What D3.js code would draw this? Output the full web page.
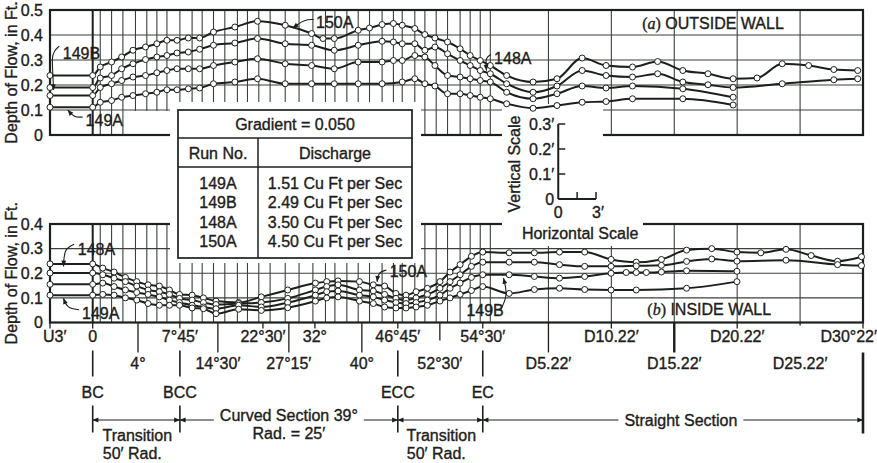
<!DOCTYPE html>
<html><head><meta charset="utf-8">
<script src="https://cdn.jsdelivr.net/npm/d3@7"></script>
<style>
body{margin:0;background:#fff;}
svg{display:block;font-family:"Liberation Sans",Arial,sans-serif;}
svg text{stroke:#1c201c;stroke-width:0.35px;}
</style></head><body>
<svg id="chart" width="877" height="463"></svg>
<script>
// ---------- DATA ----------
const runNames = ["150A","148A","149B","149A"];
const tableRuns = ["149A","149B","148A","150A"];
const tableDischarge = ["1.51 Cu Ft per Sec","2.49 Cu Ft per Sec","3.50 Cu Ft per Sec","4.50 Cu Ft per Sec"];
const gradientText = "Gradient = 0.050";

// stations: feet along channel centerline measured from BC
const outsideStations = [-3,0,0.6,1.5,2.3,3.2,4.2,5.1,5.9,6.7, 7.6,8.5,9.6,11.3,13.1,15.3,17.4,18.3,19.2,21.1, 22.0,23.0,23.9,24.6,25.6,26.4,27.2,28.2,29.2,30.0, 30.8,31.6,32.9,35.0,36.9,38.9,40.8,42.9,44.9,46.9, 48.9,50.9,52.8,54.8,56.9,58.9,60.8];
const out150A = [0.238,0.238,0.272,0.292,0.312,0.339,0.352,0.365,0.379,0.379, 0.388,0.388,0.412,0.432,0.455,0.439,0.406,0.386,0.386,0.419, 0.428,0.442,0.446,0.439,0.426,0.402,0.388,0.372,0.345,0.318, 0.298,0.278,0.238,0.212,0.225,0.308,0.278,0.272,0.294,0.258, 0.245,0.225,0.228,0.285,0.278,0.262,0.258];
const out148A = [0.19,0.19,0.228,0.238,0.265,0.285,0.302,0.312,0.318,0.328, 0.332,0.343,0.359,0.368,0.386,0.365,0.359,null,0.339,0.359, null,0.375,0.372,0.365,0.365,0.339,0.352,0.325,0.298,0.278, 0.258,0.245,0.205,0.171,0.196,0.258,0.238,0.232,0.245,0.212, 0.201,0.19,null,0.205,null,0.221,0.225];
const out149B = [0.158,0.158,0.19,0.205,0.218,0.232,0.238,0.249,0.258,0.265, 0.265,0.265,0.278,0.292,0.305,0.285,0.278,null,0.265,0.292, null,0.292,0.298,0.298,0.318,0.312,0.278,0.238,0.232,0.225, 0.218,0.212,0.171,0.145,0.165,0.196,0.188,0.196,null,0.185, null,0.151,null,null,null,null,null];
const out149A = [0.111,0.111,0.131,0.138,0.151,0.158,0.165,0.171,0.181,0.181, 0.185,0.188,0.205,0.212,0.225,0.205,0.205,null,0.205,0.205, null,0.205,null,0.212,0.225,0.205,0.196,0.165,0.165,0.158, 0.151,0.145,0.125,0.107,0.118,0.131,0.134,0.145,null,0.145, null,0.12,null,null,null,null,null];

const insideStations = [-3,0,0.8,1.7,2.6,3.5,4.4,5.3,6.1,6.9, 7.9,8.8,9.8,11.6,13.4,15.5,17.7,18.6,19.5,21.2, 22.3,23.2,24.1,24.9,25.7,26.6,27.6,28.4,29.2,30.1, 31.0,33.1,35.1,37.1,39.1,41.2,42.4,43.2,44.0,45.2, 47.2,49.2,51.2,53.1,55.1,57.1,59.2,61.1];
const in150A = [0.238,0.238,0.221,0.205,0.183,0.166,0.153,0.148,0.132,0.114, 0.111,0.1,0.087,0.081,0.104,0.132,0.16,0.166,0.169,0.166, 0.153,0.148,0.118,0.111,0.125,0.139,0.166,0.205,0.235,0.269, 0.286,0.283,0.283,0.286,0.286,0.256,null,0.245,null,0.256, 0.294,0.3,0.286,0.283,0.297,0.272,0.249,0.267];
const in148A = [0.201,0.201,0.194,0.18,0.166,0.148,0.132,0.125,0.114,0.098, 0.091,0.081,0.073,0.077,0.081,0.098,0.132,0.146,0.153,0.132, 0.128,0.114,0.098,0.091,0.1,0.114,0.139,0.166,0.194,0.228, 0.245,0.245,0.245,0.235,0.228,0.228,null,0.23,null,0.232, 0.248,0.258,0.249,null,0.253,null,0.235,0.231];
const in149B = [0.155,0.155,0.16,0.146,0.132,0.122,0.114,0.104,0.091,0.081, 0.07,0.063,0.056,0.07,0.063,0.081,0.111,0.125,0.128,0.111, 0.104,0.091,0.081,0.077,0.081,0.091,0.111,0.139,0.16,0.183, 0.194,0.194,0.187,0.18,0.187,0.2,0.203,0.203,0.203,0.205, 0.21,null,0.208,null,null,null,null,null];
const in149A = [0.111,0.111,0.114,0.111,0.1,0.091,0.077,0.07,0.07,0.07, 0.059,0.056,0.036,0.054,0.049,0.06,0.087,0.1,0.104,0.087, 0.077,0.063,0.059,0.059,0.063,0.07,0.087,0.1,0.114,0.13, 0.146,0.118,0.134,0.139,0.134,0.132,null,0.132,null,null, 0.139,null,0.166,null,null,null,null,null];

// vertical grid stations (ft)
const gridStations = [0.6,1.5,2.4,3.4,4.3,5.1,5.9,6.93,7.9,8.7,9.6,10.5,11.5,12.3,13.2,14.1,15.3,16.4,17.5,18.5,19.25,20.2,21.1,22.0,23.0,23.9,24.6,25.6,26.4,27.3,28.2,29.2,30.0,30.8,31.6,36.22,41.22,46.22,51.22,56.22];

// x-axis labels (two rows) and their stations (ft)
const xLabelsRow1 = ["U3′","0","7°45′","22°30′","32°","46°45′","54°30′","D10.22′","D20.22′","D30°22′"];
const xLabelsRow1At = [-3,0,6.93,13.53,17.66,24.25,31.0,41.22,51.22,61.22];
const xLabelsRow2 = ["4°","14°30′","27°15′","40°","52°30′","D5.22′","D15.22′","D25.22′"];
const xLabelsRow2At = [3.6,9.95,15.59,21.39,27.59,36.22,46.22,56.22];

const markerLabels = ["BC","BCC","ECC","EC"];
const markerAt = [0,6.93,24.25,31.0];

const sectionFrom = [0,6.93,24.25,31.0];
const sectionTo = [6.93,24.25,31.0,61.22];
const sectionText = [["Transition","50′ Rad."],["Curved Section 39°","Rad. = 25′"],["Transition","50′ Rad."],["Straight Section"]];

// ---------- SCALES ----------
const INK = "#1c201c", GRID = "#3c403c";
const svg = d3.select("#chart");
const x = d3.scaleLinear().domain([-3,0,61.22]).range([50,92.7,863]);
const yTop = d3.scaleLinear().domain([0,0.5]).range([135,10]);
const yBot = d3.scaleLinear().domain([0,0.4]).range([322.5,224]);
const yInset = d3.scaleLinear().domain([0,0.3]).range([199,124]);

svg.append("rect").attr("width",877).attr("height",463).attr("fill","#fff");
const defs = svg.append("defs");
defs.append("marker").attr("id","ah").attr("viewBox","0 0 10 10").attr("refX",9.5).attr("refY",5)
  .attr("markerWidth",8).attr("markerHeight",6).attr("markerUnits","userSpaceOnUse").attr("orient","auto-start-reverse")
  .append("path").attr("d","M0,1 L10,5 L0,9 Z").attr("fill",INK);

// ---------- GRID ----------
function grid(yS, vmax){
  const g = svg.append("g");
  g.selectAll("line.h").data(d3.range(1, Math.round(vmax*10))).join("line")
    .attr("x1",x(-3)).attr("x2",x(61.22)).attr("y1",d=>yS(d/10)).attr("y2",d=>yS(d/10))
    .attr("stroke",GRID).attr("stroke-width",1.1);
  g.selectAll("line.v").data(gridStations).join("line")
    .attr("x1",d=>x(d)).attr("x2",d=>x(d)).attr("y1",yS(vmax)).attr("y2",yS(0))
    .attr("stroke",GRID).attr("stroke-width",1.1);
  g.append("line").attr("x1",x(0)).attr("x2",x(0)).attr("y1",yS(vmax)).attr("y2",yS(0))
    .attr("stroke",INK).attr("stroke-width",2);
}
grid(yTop,0.5);
grid(yBot,0.4);

// small blank area under upstream curves (top panel)
svg.append("rect").attr("x",124).attr("y",yTop(0.1)+1).attr("width",46).attr("height",yTop(0)-yTop(0.1)-2).attr("fill","#fff");

// frames
[[yTop,0.5],[yBot,0.4]].forEach(([yS,vm])=>{
  svg.append("rect").attr("x",x(-3)).attr("y",yS(vm)).attr("width",x(61.22)-x(-3)).attr("height",yS(0)-yS(vm))
    .attr("fill","none").attr("stroke",INK).attr("stroke-width",2.2);
});

// masks for table & scale inset
svg.append("rect").attr("x",170).attr("y",102).attr("width",251).attr("height",161).attr("fill","#fff");
svg.append("rect").attr("x",502).attr("y",104).attr("width",101).attr("height",40).attr("fill","#fff");
svg.append("rect").attr("x",502).attr("y",214).attr("width",141).attr("height",32).attr("fill","#fff");

// ---------- SERIES ----------
function drawSeries(yS, stations, list){
  const g = svg.append("g");
  const line = d3.line().x(d=>x(d[0])).y(d=>yS(d[1])).curve(d3.curveMonotoneX);
  list.forEach(vals=>{
    const pts = stations.map((s,i)=>[s,vals[i]]).filter(d=>d[1]!=null);
    g.append("path").datum(pts).attr("d",line).attr("fill","none").attr("stroke",INK).attr("stroke-width",2);
  });
  list.forEach(vals=>{
    const pts = stations.map((s,i)=>[s,vals[i]]).filter(d=>d[1]!=null);
    g.append("g").selectAll("circle").data(pts).join("circle")
      .attr("cx",d=>x(d[0])).attr("cy",d=>yS(d[1])).attr("r",3)
      .attr("fill","#fff").attr("stroke",INK).attr("stroke-width",1);
  });
}
drawSeries(yTop, outsideStations, [out150A,out148A,out149B,out149A]);
drawSeries(yBot, insideStations, [in150A,in148A,in149B,in149A]);

// ---------- Y AXES ----------
function yAxis(yS, vals, title){
  const ax = svg.append("g").attr("transform",`translate(${x(-3)-4},0)`)
    .call(d3.axisLeft(yS).tickValues(vals).tickSize(0).tickPadding(3).tickFormat(d=>d===0?"0":d3.format(".1f")(d)));
  ax.select(".domain").remove();
  ax.attr("font-family",null).attr("font-size",16);
  ax.selectAll("text").attr("fill",INK);
  const [a,b] = yS.range();
  svg.append("text").attr("transform",`translate(17,${(a+b)/2}) rotate(-90)`)
    .attr("text-anchor","middle").attr("font-size",16).attr("fill",INK).text(title);
}
yAxis(yTop,[0,0.1,0.2,0.3,0.4,0.5],"Depth of Flow, in Ft.");
yAxis(yBot,[0,0.1,0.2,0.3,0.4],"Depth of Flow, in Ft.");

// ---------- CURVE LABELS ----------
function note(yS, text, at, path){
  svg.append("text").attr("x",x(at[0])).attr("y",yS(at[1])).attr("font-size",16).attr("fill",INK).text(text);
  svg.append("path").attr("d",d3.line().x(d=>x(d[0])).y(d=>yS(d[1])).curve(d3.curveBasis)(path))
    .attr("fill","none").attr("stroke",INK).attr("stroke-width",1.1).attr("marker-end","url(#ah)");
}
note(yTop,"149B",[-2.1,0.305],[[-2.35,0.355],[-2.9,0.33],[-2.8,0.25],[-2.75,0.18]]);
note(yTop,"149A",[-0.5,0.036],[[-0.7,0.072],[-1.3,0.07],[-1.75,0.1]]);
note(yTop,"150A",[17.75,0.43],[[17.55,0.462],[16.8,0.462],[15.9,0.428]]);
note(yTop,"148A",[31.9,0.285],[[31.65,0.322],[31.2,0.31],[31.3,0.258]]);
note(yBot,"148A",[-1.05,0.273],[[-1.3,0.318],[-2.0,0.3],[-2.05,0.228]]);
note(yBot,"149A",[-0.75,0.013],[[-0.95,0.052],[-1.8,0.058],[-2.05,0.098]]);
note(yBot,"150A",[23.6,0.185],[[23.35,0.213],[22.7,0.205],[22.6,0.166]]);
note(yBot,"149B",[29.7,0.028],[[32.4,0.05],[33.0,0.11],[32.65,0.18]]);

function wallLabel(yS, at, letter, rest){
  const t = svg.append("text").attr("x",x(at[0])).attr("y",yS(at[1])).attr("text-anchor","middle")
    .attr("font-size",16).attr("fill",INK);
  t.append("tspan").attr("font-family","'Liberation Serif',serif").text("(");
  t.append("tspan").attr("font-family","'Liberation Serif',serif").attr("font-style","italic").text(letter);
  t.append("tspan").attr("font-family","'Liberation Serif',serif").text(")");
  t.append("tspan").text(" " + rest);
}
wallLabel(yTop,[49.3,0.424],"a","OUTSIDE WALL");
wallLabel(yBot,[49.0,0.03],"b","INSIDE WALL");

// ---------- TABLE ----------
const tb = {x0:178,x1:412,y0:110,y1:258,s1:138,s2:167,col:258};
const tg = svg.append("g").attr("fill",INK).attr("font-size",16);
tg.append("rect").attr("x",tb.x0).attr("y",tb.y0).attr("width",tb.x1-tb.x0).attr("height",tb.y1-tb.y0)
  .attr("fill","#fff").attr("stroke",INK).attr("stroke-width",1.7);
tg.append("line").attr("x1",tb.x0).attr("x2",tb.x1).attr("y1",tb.s1).attr("y2",tb.s1).attr("stroke",INK).attr("stroke-width",1.5);
tg.append("line").attr("x1",tb.x0).attr("x2",tb.x1).attr("y1",tb.s2).attr("y2",tb.s2).attr("stroke",INK).attr("stroke-width",1.5);
tg.append("line").attr("x1",tb.col).attr("x2",tb.col).attr("y1",tb.s1).attr("y2",tb.y1).attr("stroke",INK).attr("stroke-width",1.5);
tg.append("text").attr("x",(tb.x0+tb.x1)/2).attr("y",130).attr("text-anchor","middle").text(gradientText);
tg.append("text").attr("x",(tb.x0+tb.col)/2).attr("y",159).attr("text-anchor","middle").text("Run No.");
tg.append("text").attr("x",(tb.col+tb.x1)/2).attr("y",159).attr("text-anchor","middle").text("Discharge");
tg.selectAll("text.r").data(tableRuns).join("text").attr("x",(tb.x0+tb.col)/2).attr("y",(d,i)=>189+i*19.3)
  .attr("text-anchor","middle").text(d=>d);
tg.selectAll("text.q").data(tableDischarge).join("text").attr("x",(tb.col+tb.x1)/2).attr("y",(d,i)=>189+i*19.3)
  .attr("text-anchor","middle").text(d=>d);

// ---------- SCALE INSET ----------
const ig = svg.append("g").attr("fill",INK).attr("font-size",16);
const x0i = x(37), x3i = x(40);
ig.append("line").attr("x1",x0i).attr("x2",x0i).attr("y1",yInset(0.3)).attr("y2",yInset(0)).attr("stroke",INK).attr("stroke-width",2);
ig.append("line").attr("x1",x0i).attr("x2",x3i).attr("y1",yInset(0)).attr("y2",yInset(0)).attr("stroke",INK).attr("stroke-width",2);
[0.1,0.2,0.3].forEach(v=>ig.append("line").attr("x1",x0i).attr("x2",x0i+7).attr("y1",yInset(v)).attr("y2",yInset(v)).attr("stroke",INK).attr("stroke-width",1.5));
[38.5,40].forEach(f=>ig.append("line").attr("x1",x(f)).attr("x2",x(f)).attr("y1",yInset(0)).attr("y2",yInset(0)-7).attr("stroke",INK).attr("stroke-width",1.5));
["0","0.1′","0.2′","0.3′"].forEach((t,i)=>ig.append("text").attr("x",x0i-4).attr("y",yInset(i/10)+6).attr("text-anchor","end").text(t));
ig.append("text").attr("x",x0i).attr("y",yInset(0)+19).attr("text-anchor","middle").text("0");
ig.append("text").attr("x",x3i+2).attr("y",yInset(0)+19).attr("text-anchor","middle").text("3′");
ig.append("text").attr("x",(x0i+x3i)/2+3).attr("y",239).attr("text-anchor","middle").text("Horizontal Scale");
ig.append("text").attr("transform",`translate(${x0i-38},${yInset(0.14)}) rotate(-90)`).attr("text-anchor","middle").text("Vertical Scale");

// ---------- X AXIS LABELS & TICKS ----------
const base = yBot(0);
const xg = svg.append("g").attr("fill",INK).attr("font-size",16);
xg.selectAll("line.t1").data(xLabelsRow1At).join("line").attr("x1",d=>x(d)).attr("x2",d=>x(d))
  .attr("y1",base).attr("y2",base+6).attr("stroke",INK).attr("stroke-width",1.3);
xg.selectAll("text.r1").data(xLabelsRow1).join("text")
  .attr("x",(d,i)=> i===0 ? x(xLabelsRow1At[i])-7 : (i===xLabelsRow1.length-1 ? x(xLabelsRow1At[i])+14 : x(xLabelsRow1At[i])))
  .attr("y",base+19).attr("text-anchor",(d,i)=> i===0?"start":(i===xLabelsRow1.length-1?"end":"middle")).text(d=>d);
xg.selectAll("line.t2").data(xLabelsRow2At).join("line").attr("x1",d=>x(d)).attr("x2",d=>x(d))
  .attr("y1",base).attr("y2",(d,i)=> i===4 ? base+18 : (i===7 ? base+3 : base+30))
  .attr("stroke",INK).attr("stroke-width",(d,i)=> i===6 ? 2.4 : 1.3);
xg.selectAll("text.r2").data(xLabelsRow2).join("text").attr("x",(d,i)=>x(xLabelsRow2At[i]))
  .attr("y",base+46).attr("text-anchor","middle").text(d=>d);

// section markers
xg.selectAll("line.m1").data(markerAt).join("line").attr("x1",d=>x(d)).attr("x2",d=>x(d))
  .attr("y1",base+28).attr("y2",base+54).attr("stroke",INK).attr("stroke-width",1.6);
xg.selectAll("text.m").data(markerLabels).join("text").attr("x",(d,i)=>x(markerAt[i])).attr("y",base+75)
  .attr("text-anchor","middle").text(d=>d);
xg.selectAll("line.m2").data(markerAt).join("line").attr("x1",d=>x(d)).attr("x2",d=>x(d))
  .attr("y1",base+83).attr("y2",base+110).attr("stroke",INK).attr("stroke-width",1.6);
xg.append("line").attr("x1",x(61.22)).attr("x2",x(61.22)).attr("y1",base+30).attr("y2",base+111)
  .attr("stroke",INK).attr("stroke-width",2.6);

// dimension arrows
const ay = base+97.5;
sectionFrom.forEach((f,i)=>{
  const a = x(f), b = x(sectionTo[i]), mid = (a+b)/2;
  const lines = sectionText[i];
  if (lines[0] === "Transition") {
    xg.append("line").attr("x1",a).attr("x2",b).attr("y1",ay).attr("y2",ay).attr("stroke",INK).attr("stroke-width",1.2)
      .attr("marker-start","url(#ah)").attr("marker-end","url(#ah)");
    xg.append("text").attr("x",mid+1).attr("y",ay+21).attr("text-anchor","middle").text(lines[0]);
    xg.append("text").attr("x",mid-4).attr("y",ay+39).attr("text-anchor","middle").text(lines[1]);
  } else {
    const two = lines.length > 1;
    const cx = two ? mid : mid+8;
    const t = xg.append("text").attr("x",cx).attr("y",two ? ay+0.5 : ay+6).attr("text-anchor","middle").text(lines[0]);
    const w = t.node().getComputedTextLength();
    xg.append("line").attr("x1",cx-w/2-6).attr("x2",a).attr("y1",ay).attr("y2",ay).attr("stroke",INK).attr("stroke-width",1.2).attr("marker-end","url(#ah)");
    xg.append("line").attr("x1",cx+w/2+6).attr("x2",b).attr("y1",ay).attr("y2",ay).attr("stroke",INK).attr("stroke-width",1.2).attr("marker-end","url(#ah)");
    if (two) xg.append("text").attr("x",cx).attr("y",ay+18.5).attr("text-anchor","middle").text(lines[1]);
  }
});
</script>
</body></html>
